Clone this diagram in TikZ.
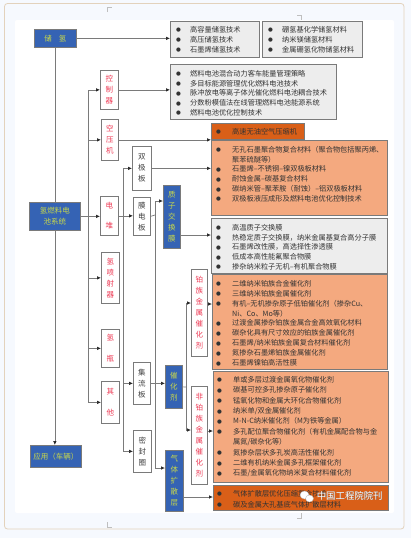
\documentclass[tikz,border=0pt]{standalone}
\usepackage{fontspec}
\usetikzlibrary{arrows.meta}
\setmainfont{Noto Sans CJK SC}
\newfontfamily\dotfont{DejaVu Sans}
\definecolor{pagebg}{HTML}{F6F9FE}
\definecolor{framecol}{HTML}{E3D2BC}
\definecolor{bluefill}{HTML}{3563B4}
\definecolor{limetext}{HTML}{C9D84A}
\definecolor{redtext}{HTML}{EE3B55}
\definecolor{rowgray}{HTML}{EDEDED}
\definecolor{salmon}{HTML}{F4A97F}
\definecolor{rust}{HTML}{D95F18}
\definecolor{linecol}{HTML}{7A7A7A}
\newlength{\dotgap}
\newcommand{\dotrow}{\makebox[\dotgap][l]{\raisebox{0.4pt}{\dotfont\fontsize{5.5}{5.5}\selectfont ●}}}
\newcommand{\dotcont}{\hspace*{\dotgap}}
\tikzset{
  boxsize/.style 2 args={minimum width=#1,minimum height=#2},
  anybox/.style={anchor=north west,inner sep=0pt,align=center,line width=0.7pt},
  bluebox/.style={anybox,draw=linecol,fill=bluefill,text=limetext,font=\fontsize{7.5}{11}\selectfont},
  redbox/.style={anybox,draw=linecol,fill=white,text=redtext,font=\fontsize{7.5}{11}\selectfont},
  partbox/.style={anybox,draw=linecol,fill=white,text=black!75,font=\fontsize{7.5}{11}\selectfont},
  listbox/.style={anybox,draw=linecol,fill=#1},
  rowtext/.style={anchor=north west,inner sep=0pt,align=left,text=black!80,
    font=\fontsize{7.2}{#1}\selectfont},
}
\begin{document}
\begin{tikzpicture}[x=1pt,y=-1pt,>={Latex[length=4pt,width=3.6pt,black!85]}]
  \useasboundingbox (0,0) rectangle (411,538);
  \fill[pagebg] (0,0) rectangle (411,538);
  \draw[framecol,line width=0.8pt,rounded corners=3pt] (4.5,3.5) rectangle (404,529);
  \fill[white,rounded corners=2pt] (15,20) rectangle (394,513);
  \draw[black!25,line width=0.5pt] (107,12) |- (112,7);
  \draw[black!25,line width=0.5pt] (297,15) -| (301,20);
  \draw[black!25,line width=0.5pt] (297,518) -| (301,513);
  \draw[black!25,line width=0.5pt] (107,522) |- (112,527);

  \node[bluebox,boxsize={42pt}{18pt}] (store) at (34,29) {储\hspace{7pt}氢};
  \node[bluebox,boxsize={51pt}{28pt}] (system) at (29,202) {氢燃料电\\池系统};
  \node[bluebox,boxsize={51pt}{22pt}] (vehicle) at (30,445) {应用（车辆）};
  \node[redbox,boxsize={18pt}{39pt}] (control) at (100,70) {控\\制\\器};
  \node[redbox,boxsize={17pt}{41pt}] (compress) at (101,119) {空\\压\\机};
  \node[redbox,boxsize={18pt}{39pt}] (stack) at (100,196) {电\\[9pt]堆};
  \node[redbox,boxsize={18pt}{51pt}] (inject) at (101,252) {氢\\喷\\射\\器};
  \node[redbox,boxsize={18pt}{38pt}] (tank) at (101,329) {氢\\[10pt]瓶};
  \node[redbox,boxsize={18pt}{42pt}] (other) at (101,381) {其\\[10pt]他};
  \node[partbox,boxsize={19pt}{44pt}] (plate) at (132,146) {双\\极\\板};
  \node[partbox,boxsize={17pt}{38pt}] (mea) at (133,197) {膜\\电\\板};
  \node[partbox,boxsize={17pt}{42pt}] (collect) at (133,362) {集\\流\\板};
  \node[partbox,boxsize={18pt}{42pt}] (seal) at (133,430) {密\\封\\圈};
  \node[bluebox,boxsize={17pt}{63pt}] (membrane) at (163,185) {质\\子\\交\\换\\膜};
  \node[bluebox,boxsize={17pt}{43pt}] (catalyst) at (165,365) {催\\化\\剂};
  \node[bluebox,boxsize={18pt}{61pt}] (gdl) at (165,450) {气\\体\\扩\\散\\层};
  \node[redbox,boxsize={16pt}{87pt}] (ptcat) at (191,269) {铂\\族\\金\\属\\催\\化\\剂};
  \node[redbox,boxsize={16pt}{98pt}] (nonpt) at (191,386) {非\\铂\\族\\金\\属\\催\\化\\剂};

  \node[listbox=rowgray,boxsize={89pt}{36pt}] (listA) at (170,21) {};
  \node[listbox=rowgray,boxsize={100pt}{36pt}] (listB) at (262,21) {};
  \node[listbox=rowgray,boxsize={166pt}{55pt}] (listC) at (170,64) {};
  \node[listbox=rust,boxsize={93pt}{16pt}] (listD) at (211,123) {};
  \node[listbox=salmon,boxsize={176pt}{75pt}] (listE) at (211,140) {};
  \node[listbox=rowgray,boxsize={176pt}{55pt}] (listF) at (211,218) {};
  \node[listbox=salmon,boxsize={175pt}{95pt}] (listG) at (212,274) {};
  \node[listbox=salmon,boxsize={175pt}{111pt}] (listH) at (213,371) {};
  \node[listbox=rust,boxsize={175pt}{25pt}] (listI) at (213,485) {};

  \setlength{\dotgap}{14pt}
  \node[rowtext=9.9] (rowsA) at (176,26) {\dotrow 高容量储氢技术\\\dotrow 高压储氢技术\\\dotrow 石墨烯储氢技术};
  \node[rowtext=9.9] (rowsB) at (268,26) {\dotrow 硼氢基化学储氢材料\\\dotrow 纳米镁储氢材料\\\dotrow 金属硼氢化物储氢材料};
  \node[rowtext=9.75] (rowsC) at (176,70) {\dotrow 燃料电池混合动力客车能量管理策略\\\dotrow 多目标能源管理优化燃料电池技术\\\dotrow 脉冲放电等离子体光催化燃料电池耦合技术\\\dotrow 分数粉模值法在线管理燃料电池能源系统\\\dotrow 燃料电池优化控制技术};
  \setlength{\dotgap}{16pt}
  \node[rowtext=9.9] (rowsD) at (216,128) {\dotrow 高速无油空气压缩机};
  \node[rowtext=9.8] (rowsE) at (216,146) {\dotrow 无孔石墨聚合物复合材料（聚合物包括聚丙烯、\\\dotcont 聚苯硫醚等）\\\dotrow 石墨烯–不锈钢–镍双极板材料\\\dotrow 耐蚀金属–碳基复合材料\\\dotrow 碳纳米管–聚苯胺（耐蚀）–铝双极板材料\\\dotrow 双极板液压成形及燃料电池优化控制技术};
  \node[rowtext=9.75] (rowsF) at (216,224) {\dotrow 高温质子交换膜\\\dotrow 热稳定质子交换膜，纳米金属基复合高分子膜\\\dotrow 石墨烯改性膜，高选择性渗透膜\\\dotrow 低成本高性能氟聚合物膜\\\dotrow 掺杂纳米粒子无机–有机聚合物膜};
  \node[rowtext=9.9] (rowsG) at (216,280) {\dotrow 二维纳米铂族合金催化剂\\\dotrow 三维纳米铂族金属催化剂\\\dotrow 有机–无机掺杂原子低铂催化剂（掺杂Cu、\\\dotcont Ni、Co、Mo等）\\\dotrow 过渡金属掺杂铂族金属合金高效氧化材料\\\dotrow 碳杂化具有尺寸效应的铂族金属催化剂\\\dotrow 石墨烯/纳米铂族金属复合材料催化剂\\\dotrow 氮掺杂石墨烯铂族金属催化剂\\\dotrow 石墨烯镍铂高活性膜};
  \node[rowtext=10.4] (rowsH) at (217,376) {\dotrow 单或多层过渡金属氧化物催化剂\\\dotrow 碳基可控多孔掺杂原子催化剂\\\dotrow 锰氧化物和金属大环化合物催化剂\\\dotrow 纳米单/双金属催化剂\\\dotrow M-N-C纳米催化剂（M为铁等金属）\\\dotrow 多孔配位聚合物催化剂（有机金属配合物与金\\\dotcont 属氮/碳杂化等）\\\dotrow 氮掺杂层状多孔炭高活性催化剂\\\dotrow 二维有机纳米金属多孔框架催化剂\\\dotrow 石墨/金属氧化物纳米复合材料催化剂};
  \node[rowtext=10.8] (rowsI) at (217,490) {\dotrow 气体扩散层优化压缩复合技术\\\dotrow 碳及金属大孔基底气体扩散层材料};

  \coordinate (busA) at (88,216);
  \coordinate (busB) at (123,216);
  \coordinate (busC) at (155,215);
  \coordinate (busD) at (186,387);
  \begin{scope}[linecol,line width=0.7pt]
    \draw (store.south) -- (store.south |- system.north);
    \draw[->] (system.south) -- (system.south |- vehicle.north);
    \draw[->] (store.east) -- (store.east -| listA.west);
    \draw[->] (system.east) -- (system.east -| stack.west);
    \draw[->] (busA) |- (control);
    \draw[->] (busA) |- (compress);
    \draw[->] (busA) |- (inject);
    \draw[->] (busA) |- (tank);
    \draw[->] (busA) |- (other);
    \draw[->] (control.east) -- (control.east -| listC.west);
    \draw[->] (compress.east) -- (compress.east -| listD.west);
    \draw[->] (stack.east) -- (stack.east -| mea.west);
    \draw[->] (busB) |- (plate);
    \draw[->] (busB) |- (collect);
    \draw[->] (busB) |- (seal);
    \draw[->] (plate.east) -- (plate.east -| listE.west);
    \draw (mea.east) -- (busC);
    \draw[->] (busC) |- (membrane.west |- 0,201);
    \draw[->] (busC) |- (gdl.west |- 0,468);
    \draw[->] (collect.east) -- (collect.east -| catalyst.west);
    \draw[->] (membrane.east |- 0,235) -- (listF.west |- 0,235);
    \draw (catalyst.east) -- (busD);
    \draw[->] (busD) |- (ptcat.west |- 0,303);
    \draw[->] (busD) |- (nonpt.west |- 0,430);
    \draw[->] (ptcat.east |- 0,304) -- (listG.west |- 0,304);
    \draw[->] (nonpt.east |- 0,431) -- (listH.west |- 0,431);
    \draw[->] (gdl.east |- 0,497) -- (listI.west |- 0,497);
  \end{scope}

  \fill[white,draw=black!30,line width=0.3pt] (304.5,495) ellipse (4.5pt and 4pt);
  \fill[white,draw=black!30,line width=0.3pt] (309.5,498.5) ellipse (4pt and 3.5pt);
  \node[inner sep=0pt,text=black!55,font=\fontsize{9.4}{11}\selectfont] (markshade) at (350.2,496.3) {中国工程院院刊};
  \node[inner sep=0pt,text=white,font=\fontsize{9.4}{11}\selectfont] (mark) at (349.7,495.8) {中国工程院院刊};
\end{tikzpicture}
\end{document}
